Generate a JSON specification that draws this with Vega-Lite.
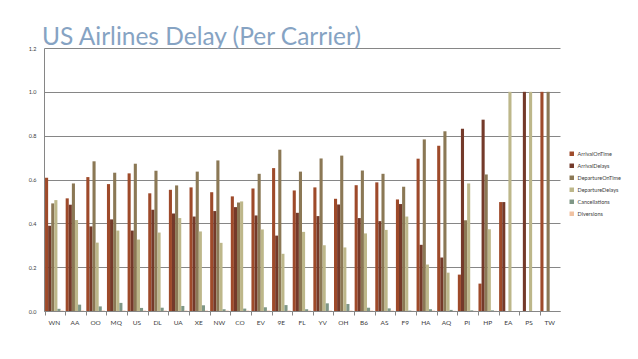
{
  "$schema": "https://vega.github.io/schema/vega-lite/v6.json",
  "width": 516,
  "height": 263,
  "autosize": {"type": "none"},
  "padding": {"left": 44, "top": 48, "right": 78, "bottom": 48},
  "background": "white",
  "title": {
    "text": "US Airlines Delay (Per Carrier)",
    "anchor": "start",
    "frame": "group",
    "font": "Lato",
    "fontSize": 24.5,
    "fontWeight": "normal",
    "color": "#86A3C3",
    "baseline": "alphabetic",
    "offset": 6,
    "dx": -2,
    "dy": 29
  },
  "config": {
    "view": {"stroke": null},
    "font": "Lato"
  },
  "data": {
    "values": [
      {"carrier": "WN", "metric": "ArrivalOnTime", "value": 0.608},
      {"carrier": "WN", "metric": "ArrivalDelays", "value": 0.389},
      {"carrier": "WN", "metric": "DepartureOnTime", "value": 0.491},
      {"carrier": "WN", "metric": "DepartureDelays", "value": 0.506},
      {"carrier": "WN", "metric": "Cancellations", "value": 0.010},
      {"carrier": "WN", "metric": "Diversions", "value": 0.002},
      {"carrier": "AA", "metric": "ArrivalOnTime", "value": 0.514},
      {"carrier": "AA", "metric": "ArrivalDelays", "value": 0.485},
      {"carrier": "AA", "metric": "DepartureOnTime", "value": 0.582},
      {"carrier": "AA", "metric": "DepartureDelays", "value": 0.415},
      {"carrier": "AA", "metric": "Cancellations", "value": 0.029},
      {"carrier": "AA", "metric": "Diversions", "value": 0.002},
      {"carrier": "OO", "metric": "ArrivalOnTime", "value": 0.611},
      {"carrier": "OO", "metric": "ArrivalDelays", "value": 0.386},
      {"carrier": "OO", "metric": "DepartureOnTime", "value": 0.683},
      {"carrier": "OO", "metric": "DepartureDelays", "value": 0.312},
      {"carrier": "OO", "metric": "Cancellations", "value": 0.021},
      {"carrier": "OO", "metric": "Diversions", "value": 0.002},
      {"carrier": "MQ", "metric": "ArrivalOnTime", "value": 0.579},
      {"carrier": "MQ", "metric": "ArrivalDelays", "value": 0.418},
      {"carrier": "MQ", "metric": "DepartureOnTime", "value": 0.631},
      {"carrier": "MQ", "metric": "DepartureDelays", "value": 0.367},
      {"carrier": "MQ", "metric": "Cancellations", "value": 0.037},
      {"carrier": "MQ", "metric": "Diversions", "value": 0.002},
      {"carrier": "US", "metric": "ArrivalOnTime", "value": 0.628},
      {"carrier": "US", "metric": "ArrivalDelays", "value": 0.367},
      {"carrier": "US", "metric": "DepartureOnTime", "value": 0.672},
      {"carrier": "US", "metric": "DepartureDelays", "value": 0.326},
      {"carrier": "US", "metric": "Cancellations", "value": 0.014},
      {"carrier": "US", "metric": "Diversions", "value": 0.002},
      {"carrier": "DL", "metric": "ArrivalOnTime", "value": 0.537},
      {"carrier": "DL", "metric": "ArrivalDelays", "value": 0.462},
      {"carrier": "DL", "metric": "DepartureOnTime", "value": 0.640},
      {"carrier": "DL", "metric": "DepartureDelays", "value": 0.358},
      {"carrier": "DL", "metric": "Cancellations", "value": 0.015},
      {"carrier": "DL", "metric": "Diversions", "value": 0.002},
      {"carrier": "UA", "metric": "ArrivalOnTime", "value": 0.553},
      {"carrier": "UA", "metric": "ArrivalDelays", "value": 0.445},
      {"carrier": "UA", "metric": "DepartureOnTime", "value": 0.573},
      {"carrier": "UA", "metric": "DepartureDelays", "value": 0.424},
      {"carrier": "UA", "metric": "Cancellations", "value": 0.023},
      {"carrier": "UA", "metric": "Diversions", "value": 0.002},
      {"carrier": "XE", "metric": "ArrivalOnTime", "value": 0.564},
      {"carrier": "XE", "metric": "ArrivalDelays", "value": 0.431},
      {"carrier": "XE", "metric": "DepartureOnTime", "value": 0.636},
      {"carrier": "XE", "metric": "DepartureDelays", "value": 0.363},
      {"carrier": "XE", "metric": "Cancellations", "value": 0.026},
      {"carrier": "XE", "metric": "Diversions", "value": 0.002},
      {"carrier": "NW", "metric": "ArrivalOnTime", "value": 0.542},
      {"carrier": "NW", "metric": "ArrivalDelays", "value": 0.456},
      {"carrier": "NW", "metric": "DepartureOnTime", "value": 0.687},
      {"carrier": "NW", "metric": "DepartureDelays", "value": 0.311},
      {"carrier": "NW", "metric": "Cancellations", "value": 0.008},
      {"carrier": "NW", "metric": "Diversions", "value": 0.002},
      {"carrier": "CO", "metric": "ArrivalOnTime", "value": 0.523},
      {"carrier": "CO", "metric": "ArrivalDelays", "value": 0.474},
      {"carrier": "CO", "metric": "DepartureOnTime", "value": 0.495},
      {"carrier": "CO", "metric": "DepartureDelays", "value": 0.500},
      {"carrier": "CO", "metric": "Cancellations", "value": 0.011},
      {"carrier": "CO", "metric": "Diversions", "value": 0.002},
      {"carrier": "EV", "metric": "ArrivalOnTime", "value": 0.559},
      {"carrier": "EV", "metric": "ArrivalDelays", "value": 0.436},
      {"carrier": "EV", "metric": "DepartureOnTime", "value": 0.626},
      {"carrier": "EV", "metric": "DepartureDelays", "value": 0.372},
      {"carrier": "EV", "metric": "Cancellations", "value": 0.017},
      {"carrier": "EV", "metric": "Diversions", "value": 0.002},
      {"carrier": "9E", "metric": "ArrivalOnTime", "value": 0.652},
      {"carrier": "9E", "metric": "ArrivalDelays", "value": 0.344},
      {"carrier": "9E", "metric": "DepartureOnTime", "value": 0.736},
      {"carrier": "9E", "metric": "DepartureDelays", "value": 0.261},
      {"carrier": "9E", "metric": "Cancellations", "value": 0.027},
      {"carrier": "9E", "metric": "Diversions", "value": 0.002},
      {"carrier": "FL", "metric": "ArrivalOnTime", "value": 0.550},
      {"carrier": "FL", "metric": "ArrivalDelays", "value": 0.448},
      {"carrier": "FL", "metric": "DepartureOnTime", "value": 0.636},
      {"carrier": "FL", "metric": "DepartureDelays", "value": 0.361},
      {"carrier": "FL", "metric": "Cancellations", "value": 0.008},
      {"carrier": "FL", "metric": "Diversions", "value": 0.002},
      {"carrier": "YV", "metric": "ArrivalOnTime", "value": 0.564},
      {"carrier": "YV", "metric": "ArrivalDelays", "value": 0.433},
      {"carrier": "YV", "metric": "DepartureOnTime", "value": 0.696},
      {"carrier": "YV", "metric": "DepartureDelays", "value": 0.300},
      {"carrier": "YV", "metric": "Cancellations", "value": 0.035},
      {"carrier": "YV", "metric": "Diversions", "value": 0.002},
      {"carrier": "OH", "metric": "ArrivalOnTime", "value": 0.512},
      {"carrier": "OH", "metric": "ArrivalDelays", "value": 0.486},
      {"carrier": "OH", "metric": "DepartureOnTime", "value": 0.709},
      {"carrier": "OH", "metric": "DepartureDelays", "value": 0.290},
      {"carrier": "OH", "metric": "Cancellations", "value": 0.032},
      {"carrier": "OH", "metric": "Diversions", "value": 0.002},
      {"carrier": "B6", "metric": "ArrivalOnTime", "value": 0.574},
      {"carrier": "B6", "metric": "ArrivalDelays", "value": 0.424},
      {"carrier": "B6", "metric": "DepartureOnTime", "value": 0.641},
      {"carrier": "B6", "metric": "DepartureDelays", "value": 0.354},
      {"carrier": "B6", "metric": "Cancellations", "value": 0.015},
      {"carrier": "B6", "metric": "Diversions", "value": 0.002},
      {"carrier": "AS", "metric": "ArrivalOnTime", "value": 0.587},
      {"carrier": "AS", "metric": "ArrivalDelays", "value": 0.410},
      {"carrier": "AS", "metric": "DepartureOnTime", "value": 0.626},
      {"carrier": "AS", "metric": "DepartureDelays", "value": 0.370},
      {"carrier": "AS", "metric": "Cancellations", "value": 0.012},
      {"carrier": "AS", "metric": "Diversions", "value": 0.002},
      {"carrier": "F9", "metric": "ArrivalOnTime", "value": 0.509},
      {"carrier": "F9", "metric": "ArrivalDelays", "value": 0.488},
      {"carrier": "F9", "metric": "DepartureOnTime", "value": 0.567},
      {"carrier": "F9", "metric": "DepartureDelays", "value": 0.431},
      {"carrier": "F9", "metric": "Cancellations", "value": 0.002},
      {"carrier": "F9", "metric": "Diversions", "value": 0.001},
      {"carrier": "HA", "metric": "ArrivalOnTime", "value": 0.695},
      {"carrier": "HA", "metric": "ArrivalDelays", "value": 0.302},
      {"carrier": "HA", "metric": "DepartureOnTime", "value": 0.783},
      {"carrier": "HA", "metric": "DepartureDelays", "value": 0.212},
      {"carrier": "HA", "metric": "Cancellations", "value": 0.008},
      {"carrier": "HA", "metric": "Diversions", "value": 0.002},
      {"carrier": "AQ", "metric": "ArrivalOnTime", "value": 0.754},
      {"carrier": "AQ", "metric": "ArrivalDelays", "value": 0.244},
      {"carrier": "AQ", "metric": "DepartureOnTime", "value": 0.820},
      {"carrier": "AQ", "metric": "DepartureDelays", "value": 0.175},
      {"carrier": "AQ", "metric": "Cancellations", "value": 0.005},
      {"carrier": "AQ", "metric": "Diversions", "value": 0.001},
      {"carrier": "PI", "metric": "ArrivalOnTime", "value": 0.166},
      {"carrier": "PI", "metric": "ArrivalDelays", "value": 0.832},
      {"carrier": "PI", "metric": "DepartureOnTime", "value": 0.414},
      {"carrier": "PI", "metric": "DepartureDelays", "value": 0.582},
      {"carrier": "PI", "metric": "Cancellations", "value": 0.003},
      {"carrier": "PI", "metric": "Diversions", "value": 0.001},
      {"carrier": "HP", "metric": "ArrivalOnTime", "value": 0.125},
      {"carrier": "HP", "metric": "ArrivalDelays", "value": 0.873},
      {"carrier": "HP", "metric": "DepartureOnTime", "value": 0.623},
      {"carrier": "HP", "metric": "DepartureDelays", "value": 0.373},
      {"carrier": "HP", "metric": "Cancellations", "value": 0.003},
      {"carrier": "HP", "metric": "Diversions", "value": 0.001},
      {"carrier": "EA", "metric": "ArrivalOnTime", "value": 0.497},
      {"carrier": "EA", "metric": "ArrivalDelays", "value": 0.497},
      {"carrier": "EA", "metric": "DepartureOnTime", "value": 0},
      {"carrier": "EA", "metric": "DepartureDelays", "value": 1.0},
      {"carrier": "EA", "metric": "Cancellations", "value": 0},
      {"carrier": "EA", "metric": "Diversions", "value": 0},
      {"carrier": "PS", "metric": "ArrivalOnTime", "value": 0},
      {"carrier": "PS", "metric": "ArrivalDelays", "value": 1.0},
      {"carrier": "PS", "metric": "DepartureOnTime", "value": 0},
      {"carrier": "PS", "metric": "DepartureDelays", "value": 1.0},
      {"carrier": "PS", "metric": "Cancellations", "value": 0},
      {"carrier": "PS", "metric": "Diversions", "value": 0},
      {"carrier": "TW", "metric": "ArrivalOnTime", "value": 1.0},
      {"carrier": "TW", "metric": "ArrivalDelays", "value": 0},
      {"carrier": "TW", "metric": "DepartureOnTime", "value": 1.0},
      {"carrier": "TW", "metric": "DepartureDelays", "value": 0},
      {"carrier": "TW", "metric": "Cancellations", "value": 0},
      {"carrier": "TW", "metric": "Diversions", "value": 0}
    ]
  },
  "mark": {"type": "bar"},
  "encoding": {
    "x": {
      "field": "carrier",
      "type": "nominal",
      "sort": null,
      "scale": {"paddingInner": 0.1, "paddingOuter": 0.05},
      "axis": {
        "title": null,
        "labelAngle": 0,
        "labelFontSize": 6.5,
        "labelColor": "#404040",
        "labelPadding": 4,
        "domainColor": "#868686",
        "tickColor": "#868686",
        "tickSize": 4,
        "bandPosition": 0,
        "grid": false
      }
    },
    "xOffset": {
      "field": "metric",
      "type": "nominal",
      "sort": ["ArrivalOnTime", "ArrivalDelays", "DepartureOnTime", "DepartureDelays", "Cancellations", "Diversions"]
    },
    "y": {
      "field": "value",
      "type": "quantitative",
      "scale": {"domain": [0, 1.2], "nice": false},
      "axis": {
        "title": null,
        "values": [0, 0.2, 0.4, 0.6, 0.8, 1, 1.2],
        "labelFontSize": 5.5,
        "labelColor": "#404040",
        "ticks": false,
        "labelPadding": 8,
        "domainColor": "#868686",
        "gridColor": "#868686",
        "gridOpacity": 1
      }
    },
    "color": {
      "field": "metric",
      "type": "nominal",
      "sort": ["ArrivalOnTime", "ArrivalDelays", "DepartureOnTime", "DepartureDelays", "Cancellations", "Diversions"],
      "scale": {
        "domain": ["ArrivalOnTime", "ArrivalDelays", "DepartureOnTime", "DepartureDelays", "Cancellations", "Diversions"],
        "range": ["#9E4A2A", "#743A2A", "#8B7855", "#BDB78A", "#7F9786", "#F0C2A2"]
      },
      "legend": {
        "title": null,
        "orient": "none",
        "legendX": 525,
        "legendY": 103,
        "symbolType": "square",
        "symbolSize": 20,
        "symbolStrokeWidth": 0,
        "labelFontSize": 5.5,
        "labelColor": "#404040",
        "rowPadding": 5,
        "labelOffset": 3
      }
    }
  }
}
